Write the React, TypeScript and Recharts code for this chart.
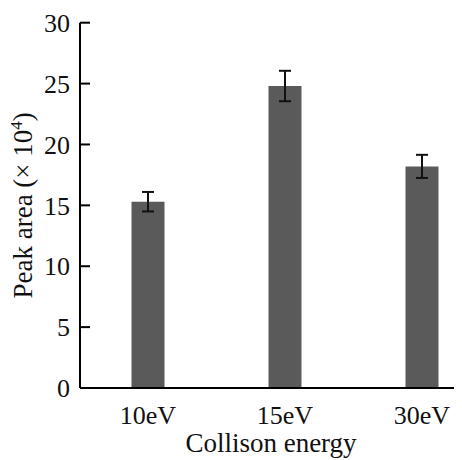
import { BarChart, Bar, XAxis, YAxis, ErrorBar } from "recharts";

const categories = ["10eV", "15eV", "30eV"];
const positions = [1, 2, 3];
const peakArea = [15.3, 24.8, 18.2];
const peakErr = [0.8, 1.25, 0.95];
const yTicks = [0, 5, 10, 15, 20, 25, 30];

const data = categories.map((c, i) => ({ name: c, pos: positions[i], value: peakArea[i], err: peakErr[i] }));

const FONT = "'Liberation Serif', 'Times New Roman', serif";

function YLabel(props: any) {
  const vb = props.viewBox || { x: 0, y: 0, height: 0 };
  const cx = 24;
  const cy = vb.y + vb.height / 2;
  return (
    <text
      x={cx}
      y={cy}
      transform={`rotate(-90, ${cx}, ${cy})`}
      textAnchor="middle"
      fontFamily={FONT}
      fontSize={27}
      fill="#111"
    >
      Peak area (× 10<tspan dy={-10} fontSize={17}>4</tspan><tspan dy={10}>)</tspan>
    </text>
  );
}

export default function App() {
  return (
    <BarChart
      width={454}
      height={452}
      data={data}
      margin={{ top: 14.7, right: 0, left: 0, bottom: 0 }}
      style={{ fontFamily: FONT }}
    >
      <XAxis
        dataKey="pos"
        type="number"
        domain={[0.5036, 3.292]}
        ticks={positions}
        tickFormatter={(v: number) => categories[positions.indexOf(v)] ?? ""}
        allowDataOverflow
        height={72}
        tickLine={false}
        tickSize={0}
        tickMargin={18}
        axisLine={{ stroke: "#000", strokeWidth: 2 }}
        tick={{ fontSize: 26, fill: "#111", fontFamily: FONT }}
        label={{ value: "Collison energy", position: "insideBottom", offset: 8, fontSize: 27, fill: "#111", fontFamily: FONT }}
      />
      <YAxis
        type="number"
        domain={[0, 30]}
        ticks={yTicks}
        width={72}
        tickSize={-10}
        tickMargin={20}
        tickLine={{ stroke: "#000", strokeWidth: 2 }}
        axisLine={{ stroke: "#000", strokeWidth: 2 }}
        tick={{ fontSize: 26, fill: "#111", fontFamily: FONT }}
        label={<YLabel />}
      />
      <Bar dataKey="value" fill="#5a5a5a" barSize={33} isAnimationActive={false}>
        <ErrorBar dataKey="err" width={6} stroke="#111" strokeWidth={2} direction="y" isAnimationActive={false} />
      </Bar>
    </BarChart>
  );
}
